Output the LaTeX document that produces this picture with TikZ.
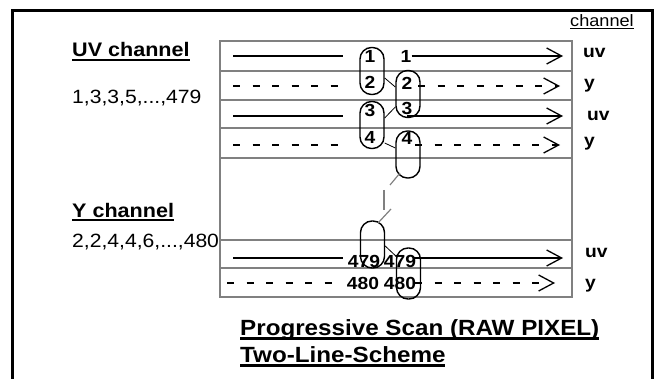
\documentclass[tikz,border=0pt]{standalone}
\usepackage{fontspec}
\setmainfont{Liberation Sans}[FakeStretch=1.1]
\usetikzlibrary{arrows.meta}
\newcommand\ulx[3]{\setbox0\hbox{#3}\rlap{\rule[-#1]{\wd0}{#2}}\box0}
\tikzset{
  frame/.style={line width=3pt, line cap=rect},
  grid/.style={draw=gray, line width=2pt},
  oval/.style={draw, line width=1.4pt, minimum width=24pt, minimum height=47pt, inner sep=0pt, rounded corners=11.5pt},
  num/.style={inner sep=0pt, font=\fontsize{17.5}{19}\selectfont\bfseries},
  solidln/.style={line width=2pt},
  dashln/.style={line width=2pt, dash pattern=on 7pt off 12.5pt},
  arr/.style={-{Straight Barb[length=15pt,width=16pt,line width=1.3pt]}},
  link/.style={line width=0.8pt},
  glink/.style={draw=gray, line width=1.2pt},
  chlab/.style={anchor=base west, inner sep=0pt, font=\fontsize{17.5}{19}\selectfont\bfseries},
  body/.style={anchor=base west, inner sep=0pt, font=\fontsize{19.2}{21}\selectfont},
  head/.style={anchor=base west, inner sep=0pt, font=\fontsize{19.6}{21}\selectfont\bfseries},
  ttl/.style={anchor=base west, inner sep=0pt, font=\fontsize{22}{24}\selectfont\bfseries},
}
\begin{document}
\begin{tikzpicture}[x=1pt,y=-1pt]
\useasboundingbox (0,0) rectangle (660,379);
% outer frame
\draw[frame] (12,380) -- (12,11) -- (652,11) -- (652,380);
% inner grid
\draw[grid] (220,41) rectangle (572,297);
\foreach \yy in {71,100,128,158,240,268}
  \draw[grid] (220,\yy) -- (572,\yy);
% ovals
\node[oval] (A) at (372,71) {};
\node[oval] (B) at (408,94) {};
\node[oval] (C) at (372,125) {};
\node[oval] (D) at (408,154.5) {};
\node[oval] (E) at (372.5,244.5) {};
\node[oval, minimum height=51pt] (F) at (408.5,273.5) {};
% numbers
\node[num] (a1) at (370,56) {1};
\node[num] (a2) at (370,82) {2};
\node[num] (b2) at (407,83) {2};
\node[num] (b3) at (407,108) {3};
\node[num] (c3) at (370,110) {3};
\node[num] (c4) at (370,137.5) {4};
\node[num] (d4) at (407,138) {4};
\node[num] (r1) at (406,56) {1};
\node[num] (e479) at (364,261.5) {479};
\node[num] (f479) at (400,261.5) {479};
\node[num] (e480) at (363,283.5) {480};
\node[num] (f480) at (400,283.5) {480};
% links between ovals
\draw[link] ([yshift=-7pt]A.east) -- ([yshift=7pt]B.west);
\draw[link] ([yshift=-13pt]B.west) -- ([yshift=7pt]C.east);
\draw[link] ([yshift=-18pt]C.east) -- ([yshift=6.5pt]D.west);
\draw[link] ([yshift=-1.5pt]E.east) -- ([yshift=17.5pt]F.west);
% gray broken link D -> E
\draw[glink] (400,173) -- (390,185);
\draw[glink] (384,190) -- (384,210);
\draw[glink] (391,209) -- (378,223);
% coordinates for lines
\coordinate (l1s) at (233,56);  \coordinate (l1e) at (343,56);  \coordinate (t1) at (563,56);
\coordinate (l2s) at (233,86);  \coordinate (l2e) at (343,86);  \coordinate (r2s) at (418,86); \coordinate (t2) at (560,86);
\coordinate (l3s) at (233,116); \coordinate (l3e) at (343,116); \coordinate (r3s) at (407,116); \coordinate (t3) at (563,116);
\coordinate (l4s) at (233,145); \coordinate (l4e) at (343,145); \coordinate (r4s) at (415,145); \coordinate (t4) at (560,145);
\coordinate (l5s) at (233,258); \coordinate (l5e) at (343,258); \coordinate (r5s) at (413,258); \coordinate (t5) at (563,258);
\coordinate (l6s) at (227,283); \coordinate (l6e) at (340,283); \coordinate (r6s) at (415,283); \coordinate (t6) at (555,283);
\draw[solidln] (l1s) -- (l1e);
\draw[solidln, arr] (r1.east) -- (t1);
\draw[dashln] (l2s) -- (l2e);
\draw[dashln, arr] (r2s) -- (t2);
\draw[solidln] (l3s) -- (l3e);
\draw[solidln, arr] (r3s) -- (t3);
\draw[dashln] (l4s) -- (l4e);
\draw[dashln, arr] (r4s) -- (t4);
\draw[solidln] (l5s) -- (l5e);
\draw[solidln, arr] (r5s) -- (t5);
\draw[dashln] (l6s) -- (l6e);
\draw[dashln, arr] (r6s) -- (t6);
% channel labels
\node[anchor=base west, inner sep=0pt, font=\fontsize{16.5}{18}\selectfont] (chan) at (570,27) {\ulx{2pt}{1.2pt}{channel}};
\node[chlab] (uv1) at (583,58) {uv};
\node[chlab] (y1) at (584,89) {y};
\node[chlab] (uv2) at (587,121) {uv};
\node[chlab] (y2) at (584,147) {y};
\node[chlab] (uv3) at (585,257) {uv};
\node[chlab] (y3) at (585,288) {y};
% left texts
\node[head] (uvh) at (72,57) {\ulx{4pt}{2.4pt}{UV channel}};
\node[body] (uvs) at (72,104) {1,3,3,5,...,479};
\node[head] (yh) at (72,217) {\ulx{4pt}{2.4pt}{Y channel}};
\node[body] (ys) at (72,247) {2,2,4,4,6,...,480};
% title
\node[ttl] (t1l) at (240,335) {\ulx{4.5pt}{2.8pt}{Progressive Scan (RAW PIXEL)}};
\node[ttl] (t2l) at (240,362) {\ulx{4.5pt}{2.8pt}{Two-Line-Scheme}};
\end{tikzpicture}
\end{document}
